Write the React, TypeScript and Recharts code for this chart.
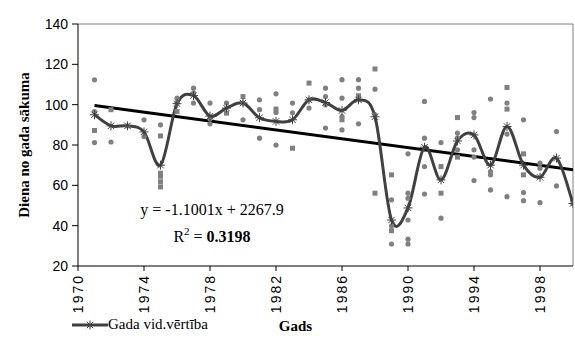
import {
  ComposedChart,
  Line,
  Scatter,
  XAxis,
  YAxis,
  ReferenceLine,
  Legend,
  Customized,
} from 'recharts'

const YEARS = [
  1971, 1972, 1973, 1974, 1975, 1976, 1977, 1978, 1979, 1980,
  1981, 1982, 1983, 1984, 1985, 1986, 1987, 1988, 1989, 1990,
  1991, 1992, 1993, 1994, 1995, 1996, 1997, 1998, 1999, 2000,
]

// yearly mean (line with asterisks)
const MEAN_VALUES = [
  95, 89.5, 89.5, 86.5, 70, 100.5, 104.5, 94.3, 98.3, 100.8,
  93.5, 91.7, 92.5, 102.4, 101.1, 97.1, 102.4, 94, 42.8, 48.8,
  78.9, 62.7, 82, 85, 70, 89.2, 70, 64, 73.5, 51,
]

// single observations [year, day]
const CIRCLE_OBS = [
  [1971, 112.3], [1971, 96.6], [1971, 81.2], [1972, 81.5], [1973, 89.5],
  [1974, 92.5], [1974, 84.2], [1975, 90], [1976, 103.2], [1976, 100.8],
  [1977, 108.2], [1977, 105.7], [1977, 100.8], [1978, 100.8], [1978, 90.5],
  [1978, 93], [1979, 100.8], [1980, 100.8], [1980, 92.5], [1981, 102.4],
  [1981, 97.5], [1981, 83.4], [1982, 105.4], [1982, 96.1], [1982, 80],
  [1983, 100.8], [1983, 96], [1984, 102.4], [1984, 98.3], [1985, 108.2],
  [1985, 104], [1985, 99.9], [1985, 88.4], [1986, 112.4], [1986, 103.2],
  [1986, 94.1], [1986, 87.5], [1987, 112.4], [1987, 108.2], [1987, 90.5],
  [1988, 107.7], [1988, 95], [1989, 52.8], [1989, 39.9], [1989, 30.9],
  [1990, 75.6], [1990, 56.1], [1990, 53.6], [1990, 42.8], [1990, 33.3],
  [1990, 30.9], [1991, 101.6], [1991, 83.4], [1991, 69.3], [1991, 55.7],
  [1992, 81.2], [1992, 43.7], [1993, 85.9], [1993, 83.5], [1993, 77.6],
  [1994, 96.1], [1994, 93.6], [1994, 77.6], [1994, 74], [1994, 62.4],
  [1995, 102.8], [1995, 66.8], [1995, 65.2], [1995, 57.7], [1996, 100.8],
  [1996, 85.4], [1996, 54.4], [1997, 92.5], [1997, 56.4], [1997, 52.4],
  [1998, 71], [1998, 68.5], [1998, 51.4], [1999, 86.7], [1999, 59.7],
  [2000, 51],
]

const SQUARE_OBS = [
  [1971, 87.2], [1972, 97.5], [1975, 84.5], [1975, 66], [1975, 64.5],
  [1975, 61.8], [1975, 59.2], [1976, 96.6], [1979, 95.8], [1980, 104],
  [1982, 97.8], [1983, 78.4], [1984, 110.7], [1986, 92.5], [1987, 104.4],
  [1988, 117.7], [1988, 56.1], [1989, 65.2], [1989, 37.5], [1992, 69.3],
  [1992, 56.1], [1993, 93.6], [1993, 74], [1996, 108.5], [1996, 97.8],
  [1997, 75.6], [1997, 65.2],
]

// linear trend as printed on the chart
const TREND_SLOPE = -1.1001
const TREND_INTERCEPT = 2267.9
const TREND_YEARS = [1971, 2000]

const X_TICKS = [1970, 1974, 1978, 1982, 1986, 1990, 1994, 1998]
const Y_TICKS = [20, 40, 60, 80, 100, 120, 140]

const meanData = YEARS.map((year, i) => ({ year, v: MEAN_VALUES[i] }))
const circleData = CIRCLE_OBS.map(([year, v]) => ({ year, v }))
const squareData = SQUARE_OBS.map(([year, v]) => ({ year, v }))
const trendData = TREND_YEARS.map((year) => ({
  year,
  v: TREND_SLOPE * year + TREND_INTERCEPT,
}))

const GRAY = '#808080'
const DARK = '#404040'
const SERIF = '"Liberation Serif", "Times New Roman", serif'
const SANS = '"Liberation Sans", Arial, sans-serif'

// excel-like smoothed line (catmull-rom through the points)
function smoothCurve(context: any) {
  let pts: number[][] = []
  return {
    areaStart() {},
    areaEnd() {},
    lineStart() {
      pts = []
    },
    point(x: number, y: number) {
      pts.push([+x, +y])
    },
    lineEnd() {
      if (!pts.length) return
      context.moveTo(pts[0][0], pts[0][1])
      for (let i = 0; i < pts.length - 1; i++) {
        const p0 = pts[i - 1] || pts[i]
        const p1 = pts[i]
        const p2 = pts[i + 1]
        const p3 = pts[i + 2] || p2
        context.bezierCurveTo(
          p1[0] + (p2[0] - p0[0]) / 6,
          p1[1] + (p2[1] - p0[1]) / 6,
          p2[0] - (p3[0] - p1[0]) / 6,
          p2[1] - (p3[1] - p1[1]) / 6,
          p2[0],
          p2[1],
        )
      }
    },
  }
}

function Asterisk({ cx, cy }: { cx: number; cy: number }) {
  const r = 4.5
  const d = 3.2
  return (
    <g stroke={DARK} strokeWidth={1}>
      <line x1={cx - r} y1={cy} x2={cx + r} y2={cy} />
      <line x1={cx} y1={cy - r} x2={cx} y2={cy + r} />
      <line x1={cx - d} y1={cy - d} x2={cx + d} y2={cy + d} />
      <line x1={cx - d} y1={cy + d} x2={cx + d} y2={cy - d} />
    </g>
  )
}

const YearTick = ({ x, y, payload }: any) => (
  <text
    transform={`translate(${x},${y}) rotate(-90)`}
    textAnchor="end"
    dominantBaseline="central"
    fontSize={14}
    letterSpacing={2}
    fontFamily={SANS}
    fill="#000"
  >
    {payload.value}
  </text>
)

const YTitle = ({ viewBox }: any) => (
  <text
    transform={`translate(24,${viewBox.y + viewBox.height / 2}) rotate(-90)`}
    textAnchor="middle"
    dominantBaseline="central"
    fontSize={15}
    fontWeight="bold"
    fontFamily={SERIF}
    fill="#000"
  >
    Diena no gada sākuma
  </text>
)

const XTitle = ({ viewBox }: any) => (
  <text
    x={viewBox.x + viewBox.width / 2 - 30}
    y={331}
    textAnchor="middle"
    fontSize={15}
    fontWeight="bold"
    fontFamily={SERIF}
    fill="#000"
  >
    Gads
  </text>
)

const Equation = () => (
  <g fontFamily={SERIF} fontSize={16} fill="#000" textAnchor="middle">
    <text x={212} y={215}>y = -1.1001x + 2267.9</text>
    <text x={212} y={242}>
      R<tspan fontSize={11} dy={-7}>2</tspan>
      <tspan dy={7}> = </tspan>
      <tspan fontWeight="bold">0.3198</tspan>
    </text>
  </g>
)

const LegendContent = () => (
  <div style={{ display: 'flex', alignItems: 'center', fontFamily: SERIF, fontSize: 15 }}>
    <svg width={36} height={12}>
      <line x1={0} y1={6} x2={36} y2={6} stroke={DARK} strokeWidth={3} />
      <Asterisk cx={18} cy={6} />
    </svg>
    <span>Gada vid.vērtība</span>
  </div>
)

export default function App() {
  return (
    <div style={{ position: 'absolute', left: 0, top: 0, background: '#fff' }}>
      <ComposedChart
        width={575}
        height={355}
        margin={{ top: 24, right: 2, left: 0, bottom: 19 }}
      >
        <XAxis
          dataKey="year"
          type="number"
          domain={[1970, 2000]}
          ticks={X_TICKS}
          allowDataOverflow
          interval={0}
          tick={<YearTick />}
          tickSize={5}
          tickMargin={3}
          height={70}
          stroke="#000"
          label={<XTitle />}
        />
        <YAxis
          type="number"
          domain={[20, 140]}
          ticks={Y_TICKS}
          width={78}
          tickSize={6}
          tickMargin={4}
          stroke="#000"
          tick={{ fill: '#000', fontSize: 14, fontFamily: SANS }}
          label={<YTitle />}
        />
        <ReferenceLine y={140} stroke={GRAY} strokeWidth={1} />
        <ReferenceLine x={2000} stroke={GRAY} strokeWidth={1} />
        <Scatter
          data={circleData}
          dataKey="v"
          isAnimationActive={false}
          shape={(p: any) => <circle cx={p.cx} cy={p.cy} r={2.6} fill={GRAY} />}
        />
        <Scatter
          data={squareData}
          dataKey="v"
          isAnimationActive={false}
          shape={(p: any) => (
            <rect x={p.cx - 2.5} y={p.cy - 2.5} width={5} height={5} fill={GRAY} />
          )}
        />
        <Line
          data={trendData}
          dataKey="v"
          type="linear"
          stroke="#000"
          strokeWidth={3}
          dot={false}
          activeDot={false}
          isAnimationActive={false}
        />
        <Line
          data={meanData}
          dataKey="v"
          type={smoothCurve as any}
          stroke={DARK}
          strokeWidth={3}
          dot={(p: any) => <Asterisk key={p.index} cx={p.cx} cy={p.cy} />}
          activeDot={false}
          isAnimationActive={false}
        />
        <Customized component={Equation} />
        <Legend
          layout="horizontal"
          verticalAlign="middle"
          align="center"
          wrapperStyle={{ left: 72, top: 316, width: 220 }}
          content={<LegendContent />}
        />
      </ComposedChart>
    </div>
  )
}
